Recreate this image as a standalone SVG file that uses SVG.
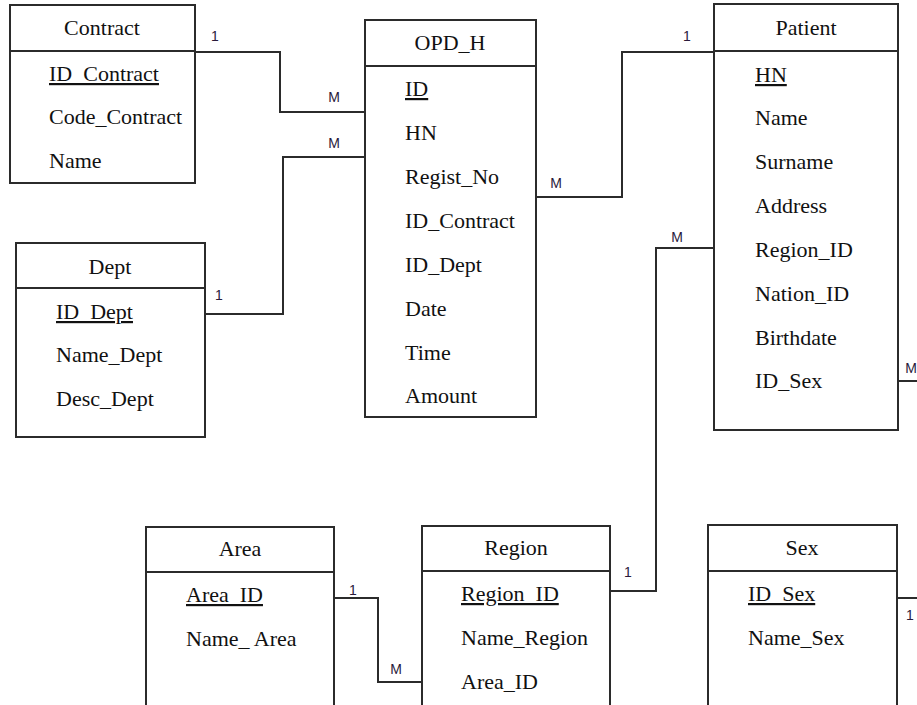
<svg xmlns="http://www.w3.org/2000/svg" width="917" height="705" viewBox="0 0 917 705">
  <style>
    .box { fill: #ffffff; stroke: #2b2b2b; stroke-width: 2; }
    .div { stroke: #2b2b2b; stroke-width: 2; }
    .title { font-family: "Liberation Serif", "Times New Roman", serif; font-size: 22px; fill: #111; text-anchor: middle; }
    .attr { font-family: "Liberation Serif", "Times New Roman", serif; font-size: 22px; fill: #111; }
    .pk { text-decoration: underline; }
    .link { fill: none; stroke: #2b2b2b; stroke-width: 2; }
    .card { font-family: "Liberation Sans", Arial, sans-serif; font-size: 14px; fill: #2a1a3a; text-anchor: middle; }
  </style>
  <rect width="917" height="705" fill="#ffffff"/>

  <!-- relationships -->
  <g id="connectors">
    <polyline class="link" points="195,52 280,52 280,112 365,112"/>
    <polyline class="link" points="205,314 283,314 283,157 365,157"/>
    <polyline class="link" points="536,197 622,197 622,52 714,52"/>
    <polyline class="link" points="714,248 656,248 656,591 610,591"/>
    <polyline class="link" points="334,598 378,598 378,682 422,682"/>
    <line class="link" x1="898" y1="381" x2="917" y2="381"/>
    <line class="link" x1="897" y1="598" x2="917" y2="598"/>
    <text class="card" x="215" y="41">1</text>
    <text class="card" x="334" y="102">M</text>
    <text class="card" x="334" y="148">M</text>
    <text class="card" x="219" y="300">1</text>
    <text class="card" x="556" y="188">M</text>
    <text class="card" x="687" y="41">1</text>
    <text class="card" x="677" y="242">M</text>
    <text class="card" x="628" y="577">1</text>
    <text class="card" x="911" y="373">M</text>
    <text class="card" x="910" y="620">1</text>
    <text class="card" x="353" y="595">1</text>
    <text class="card" x="396" y="674">M</text>
  </g>

  <g id="contract">
    <rect class="box" x="10" y="5" width="185" height="178"/>
    <line class="div" x1="10" y1="51" x2="195" y2="51"/>
    <text class="title" x="102" y="35">Contract</text>
    <text class="attr pk" x="49" y="81">ID_Contract</text>
    <text class="attr" x="49" y="124">Code_Contract</text>
    <text class="attr" x="49" y="168">Name</text>
  </g>

  <g id="opd_h">
    <rect class="box" x="365" y="20" width="171" height="397"/>
    <line class="div" x1="365" y1="66" x2="536" y2="66"/>
    <text class="title" x="450" y="50">OPD_H</text>
    <text class="attr pk" x="405" y="96">ID</text>
    <text class="attr" x="405" y="140">HN</text>
    <text class="attr" x="405" y="184">Regist_No</text>
    <text class="attr" x="405" y="228">ID_Contract</text>
    <text class="attr" x="405" y="272">ID_Dept</text>
    <text class="attr" x="405" y="316">Date</text>
    <text class="attr" x="405" y="360">Time</text>
    <text class="attr" x="405" y="403">Amount</text>
  </g>

  <g id="patient">
    <rect class="box" x="714" y="4" width="184" height="426"/>
    <line class="div" x1="714" y1="51" x2="898" y2="51"/>
    <text class="title" x="806" y="35">Patient</text>
    <text class="attr pk" x="755" y="82">HN</text>
    <text class="attr" x="755" y="125">Name</text>
    <text class="attr" x="755" y="169">Surname</text>
    <text class="attr" x="755" y="213">Address</text>
    <text class="attr" x="755" y="257">Region_ID</text>
    <text class="attr" x="755" y="301">Nation_ID</text>
    <text class="attr" x="755" y="345">Birthdate</text>
    <text class="attr" x="755" y="388">ID_Sex</text>
  </g>

  <g id="dept">
    <rect class="box" x="16" y="243" width="189" height="194"/>
    <line class="div" x1="16" y1="288" x2="205" y2="288"/>
    <text class="title" x="110" y="274">Dept</text>
    <text class="attr pk" x="56" y="319">ID_Dept</text>
    <text class="attr" x="56" y="362">Name_Dept</text>
    <text class="attr" x="56" y="406">Desc_Dept</text>
  </g>

  <g id="area">
    <rect class="box" x="146" y="527" width="188" height="190"/>
    <line class="div" x1="146" y1="572" x2="334" y2="572"/>
    <text class="title" x="240" y="556">Area</text>
    <text class="attr pk" x="186" y="602">Area_ID</text>
    <text class="attr" x="186" y="646">Name_ Area</text>
  </g>

  <g id="region">
    <rect class="box" x="422" y="526" width="188" height="190"/>
    <line class="div" x1="422" y1="571" x2="610" y2="571"/>
    <text class="title" x="516" y="555">Region</text>
    <text class="attr pk" x="461" y="601">Region_ID</text>
    <text class="attr" x="461" y="645">Name_Region</text>
    <text class="attr" x="461" y="689">Area_ID</text>
  </g>

  <g id="sex">
    <rect class="box" x="708" y="525" width="189" height="190"/>
    <line class="div" x1="708" y1="571" x2="897" y2="571"/>
    <text class="title" x="802" y="555">Sex</text>
    <text class="attr pk" x="748" y="601">ID_Sex</text>
    <text class="attr" x="748" y="645">Name_Sex</text>
  </g>
</svg>
